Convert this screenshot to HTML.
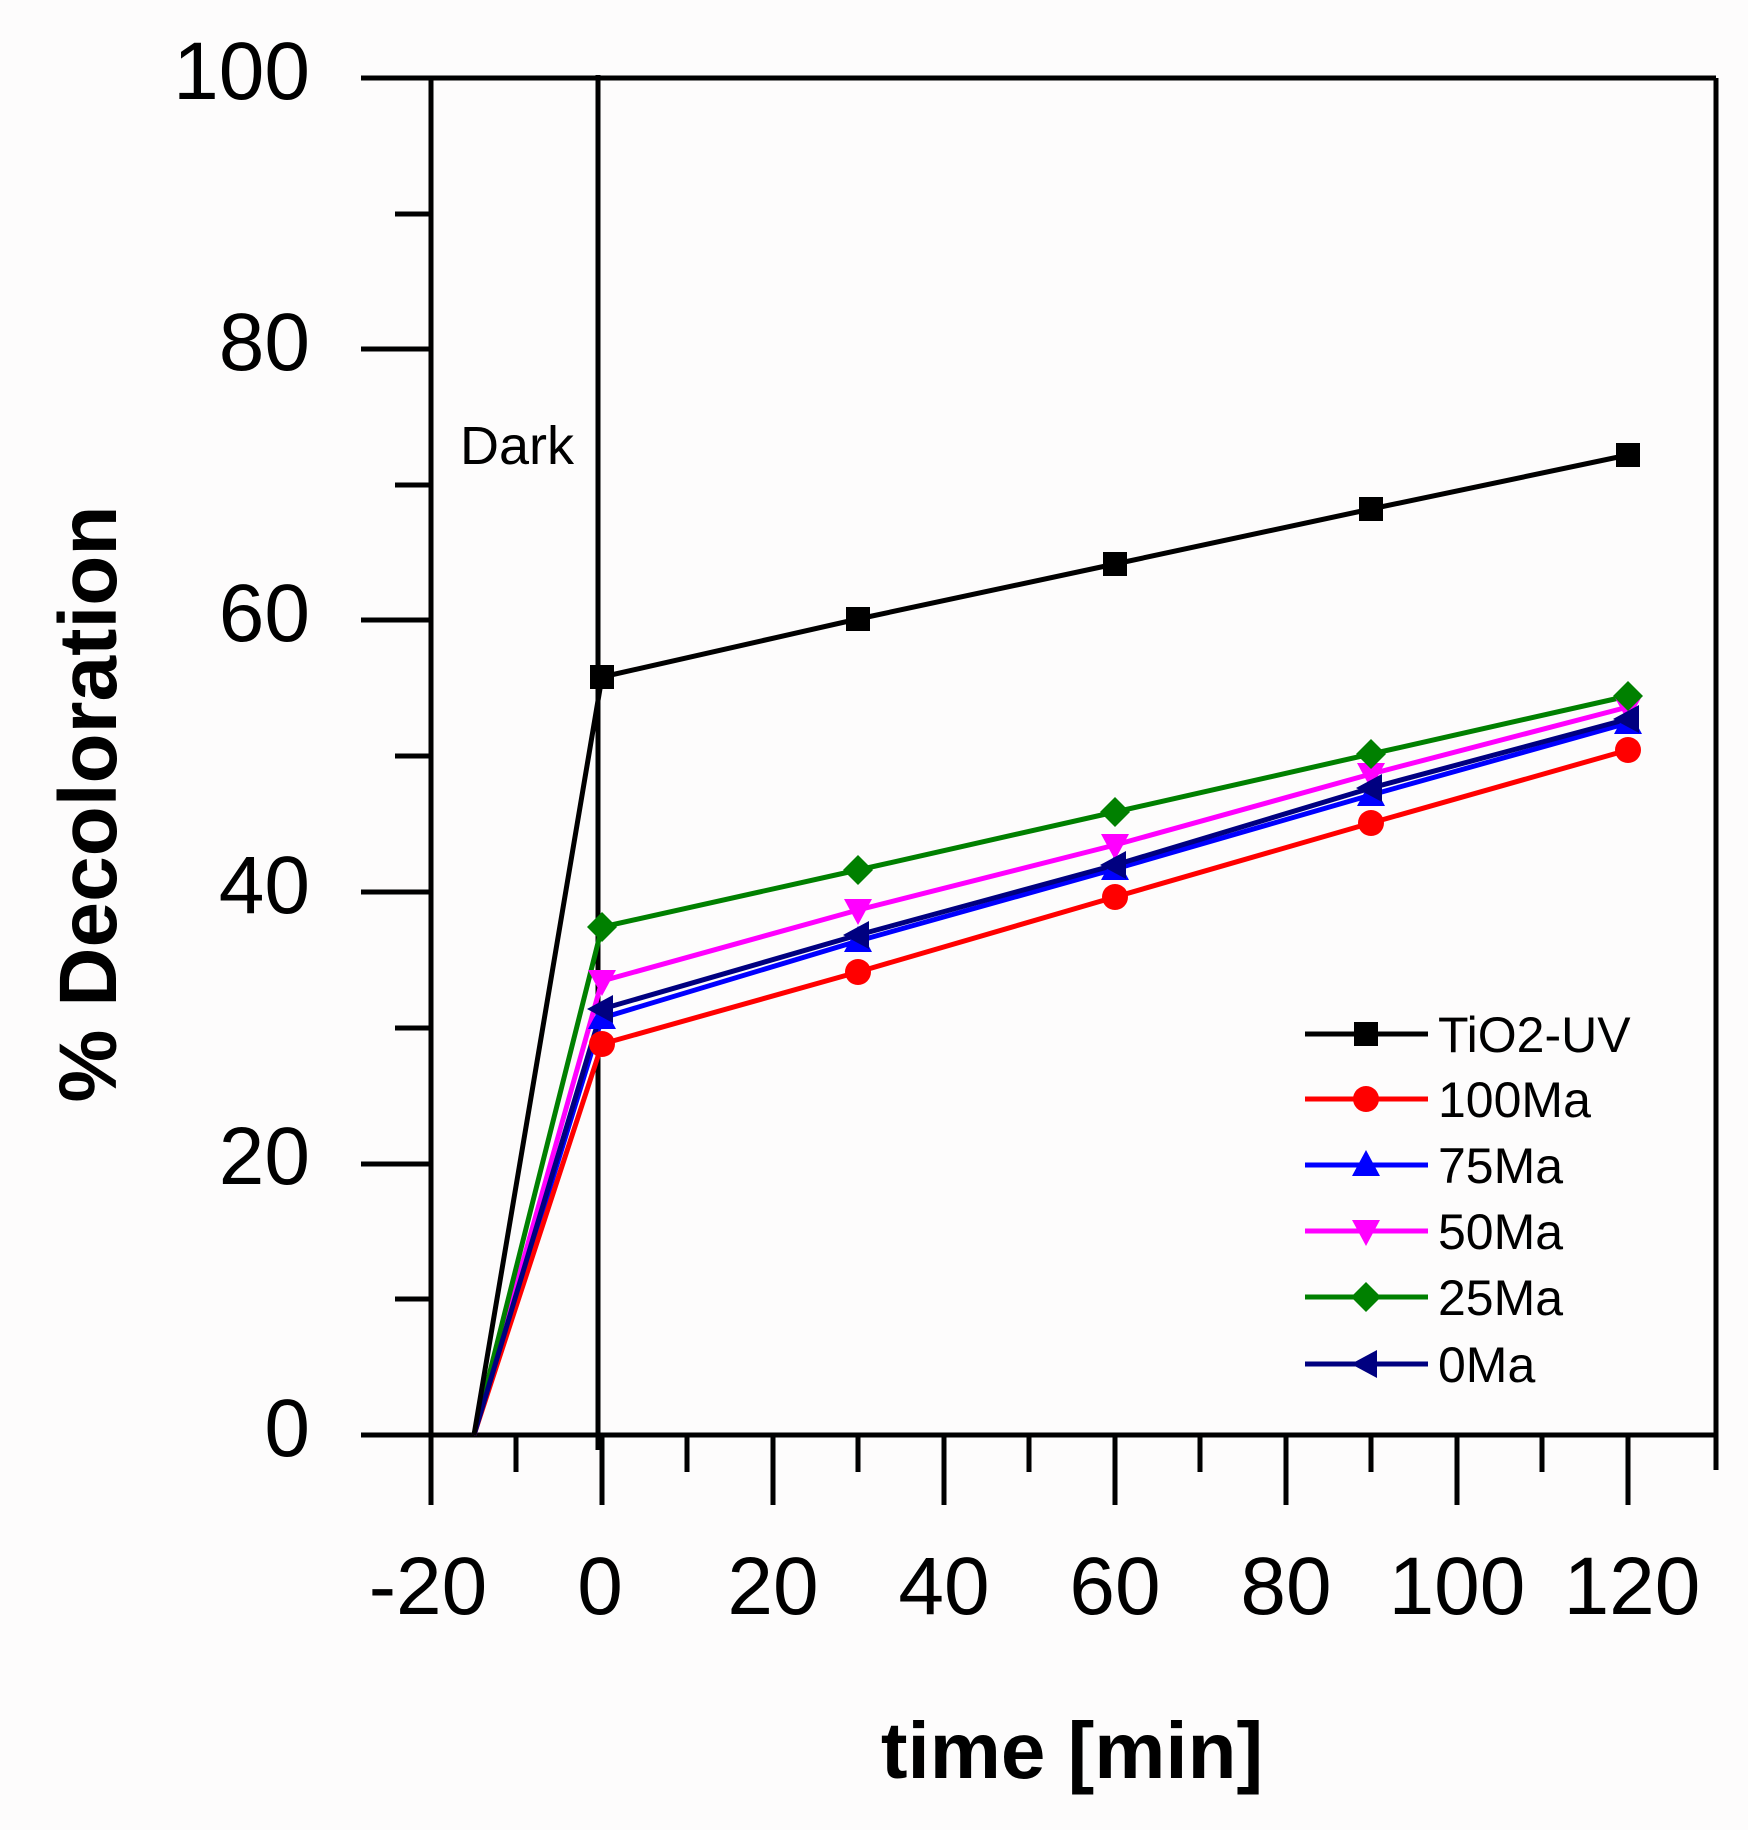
<!DOCTYPE html>
<html><head><meta charset="utf-8"><style>
html,body{margin:0;padding:0;background:#fff}
svg{display:block}
text{font-family:"Liberation Sans",Arial,sans-serif;fill:#000}
</style></head><body>
<svg width="1748" height="1830" viewBox="0 0 1748 1830" xmlns="http://www.w3.org/2000/svg">
<rect width="1748" height="1830" fill="#fdfcfc"/>
<defs>
<g id="sq"><rect x="-12" y="-12" width="24" height="24"/></g>
<g id="ci"><circle r="13"/></g>
<g id="tu"><polygon points="0,-15 14,11 -14,11"/></g>
<g id="td"><polygon points="0,15 14,-11 -14,-11"/></g>
<g id="di"><polygon points="0,-15 15,0 0,15 -15,0"/></g>
<g id="tl"><polygon points="-15,0 11,-14 11,14"/></g>
</defs>
<g stroke="#000" stroke-width="5" fill="none">
<line x1="361" y1="78" x2="1716" y2="78"/>
<line x1="361" y1="1435" x2="1716" y2="1435"/>
<line x1="431" y1="78" x2="431" y2="1505"/>
<line x1="1716" y1="78" x2="1716" y2="1470"/>
<line x1="598" y1="75" x2="598" y2="1450"/>
<line x1="361" y1="349" x2="431" y2="349"/>
<line x1="361" y1="620" x2="431" y2="620"/>
<line x1="361" y1="892" x2="431" y2="892"/>
<line x1="361" y1="1164" x2="431" y2="1164"/>
<line x1="395" y1="214" x2="431" y2="214"/>
<line x1="395" y1="485" x2="431" y2="485"/>
<line x1="395" y1="756" x2="431" y2="756"/>
<line x1="395" y1="1028" x2="431" y2="1028"/>
<line x1="395" y1="1299" x2="431" y2="1299"/>
<line x1="602" y1="1435" x2="602" y2="1505"/>
<line x1="773" y1="1435" x2="773" y2="1505"/>
<line x1="944" y1="1435" x2="944" y2="1505"/>
<line x1="1115" y1="1435" x2="1115" y2="1505"/>
<line x1="1286" y1="1435" x2="1286" y2="1505"/>
<line x1="1457" y1="1435" x2="1457" y2="1505"/>
<line x1="1628" y1="1435" x2="1628" y2="1505"/>
<line x1="516" y1="1435" x2="516" y2="1472"/>
<line x1="687" y1="1435" x2="687" y2="1472"/>
<line x1="858" y1="1435" x2="858" y2="1472"/>
<line x1="1029" y1="1435" x2="1029" y2="1472"/>
<line x1="1200" y1="1435" x2="1200" y2="1472"/>
<line x1="1371" y1="1435" x2="1371" y2="1472"/>
<line x1="1542" y1="1435" x2="1542" y2="1472"/>
</g>
<g font-size="82" text-anchor="end">
<text x="310" y="99">100</text>
<text x="310" y="370">80</text>
<text x="310" y="641">60</text>
<text x="310" y="913">40</text>
<text x="310" y="1184">20</text>
<text x="310" y="1456">0</text>
</g>
<g font-size="82" text-anchor="middle">
<text x="428" y="1614">-20</text>
<text x="600" y="1614">0</text>
<text x="773" y="1614">20</text>
<text x="944" y="1614">40</text>
<text x="1115" y="1614">60</text>
<text x="1286" y="1614">80</text>
<text x="1457" y="1614">100</text>
<text x="1632" y="1614">120</text>
</g>
<text x="1072" y="1778" font-size="80" font-weight="bold" text-anchor="middle">time [min]</text>
<text transform="translate(116,804) rotate(-90)" font-size="82" font-weight="bold" text-anchor="middle">% Decoloration</text>
<text x="460" y="464" font-size="54">Dark</text>
<g stroke-width="5" fill="none">
<polyline stroke="#0000ff" points="474,1435 602,1018 858,941 1115,869 1371,795 1628,723"/>
<polyline stroke="#ff00ff" points="474,1435 602,981 858,910 1115,845 1371,774 1628,707"/>
<polyline stroke="#008000" points="474,1435 602,927 858,870 1115,812 1371,754 1628,696"/>
<polyline stroke="#ff0000" points="474,1435 602,1044 858,972 1115,897 1371,823 1628,750"/>
<polyline stroke="#000080" points="474,1435 602,1009 858,935 1115,865 1371,788 1628,719"/>
<polyline stroke="#000000" points="474,1435 602,677 858,619 1115,564 1371,509 1628,455"/>
</g>
<g fill="#000"><use href="#sq" x="602" y="677"/><use href="#sq" x="858" y="619"/><use href="#sq" x="1115" y="564"/><use href="#sq" x="1371" y="509"/><use href="#sq" x="1628" y="455"/></g>
<g fill="#ff0000"><use href="#ci" x="602" y="1044"/><use href="#ci" x="858" y="972"/><use href="#ci" x="1115" y="897"/><use href="#ci" x="1371" y="823"/><use href="#ci" x="1628" y="750"/></g>
<g fill="#0000ff"><use href="#tu" x="602" y="1018"/><use href="#tu" x="858" y="941"/><use href="#tu" x="1115" y="869"/><use href="#tu" x="1371" y="795"/><use href="#tu" x="1628" y="723"/></g>
<g fill="#ff00ff"><use href="#td" x="602" y="981"/><use href="#td" x="858" y="910"/><use href="#td" x="1115" y="845"/><use href="#td" x="1371" y="774"/><use href="#td" x="1628" y="707"/></g>
<g fill="#008000"><use href="#di" x="602" y="927"/><use href="#di" x="858" y="870"/><use href="#di" x="1115" y="812"/><use href="#di" x="1371" y="754"/><use href="#di" x="1628" y="696"/></g>
<g fill="#000080"><use href="#tl" x="602" y="1009"/><use href="#tl" x="858" y="935"/><use href="#tl" x="1115" y="865"/><use href="#tl" x="1371" y="788"/><use href="#tl" x="1628" y="719"/></g>
<g stroke-width="5">
<line x1="1305" y1="1034" x2="1428" y2="1034" stroke="#000"/>
<line x1="1305" y1="1099" x2="1428" y2="1099" stroke="#ff0000"/>
<line x1="1305" y1="1165" x2="1428" y2="1165" stroke="#0000ff"/>
<line x1="1305" y1="1231" x2="1428" y2="1231" stroke="#ff00ff"/>
<line x1="1305" y1="1297" x2="1428" y2="1297" stroke="#008000"/>
<line x1="1305" y1="1364" x2="1428" y2="1364" stroke="#000080"/>
</g>
<use href="#sq" x="1366" y="1034" fill="#000"/>
<use href="#ci" x="1366" y="1099" fill="#ff0000"/>
<use href="#tu" x="1366" y="1165" fill="#0000ff"/>
<use href="#td" x="1366" y="1231" fill="#ff00ff"/>
<use href="#di" x="1366" y="1297" fill="#008000"/>
<use href="#tl" x="1366" y="1364" fill="#000080"/>
<g font-size="50">
<text x="1438" y="1052">TiO2-UV</text>
<text x="1438" y="1117">100Ma</text>
<text x="1438" y="1183">75Ma</text>
<text x="1438" y="1249">50Ma</text>
<text x="1438" y="1315">25Ma</text>
<text x="1438" y="1382">0Ma</text>
</g>
</svg>
</body></html>
